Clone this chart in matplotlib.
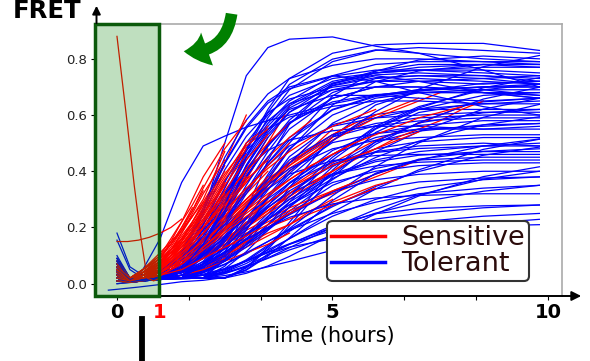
import numpy as np
import matplotlib.pyplot as plt
from matplotlib.patches import Rectangle, FancyArrowPatch
from matplotlib.lines import Line2D

# time grids (hours)
t_tolerant = [0, 0.3, 0.6, 1, 1.5, 2, 2.5, 3, 3.5, 4, 5, 6, 7, 8.5, 9.8]
t_sensitive = [0, 0.3, 0.6, 1, 1.25, 1.5, 1.75, 2, 2.5, 3, 3.5, 4, 4.5, 5,
               5.5, 6, 6.5, 7, 7.5, 8, 8.5]

# tolerant (blue) FRET traces, one row per cell, on t_tolerant
tolerant = [
    [0.05, 0.01, 0.01, 0.03, 0.10, 0.25, 0.50, 0.74, 0.84, 0.87, 0.878, 0.845, 0.82, 0.80, 0.79],
    [0.03, 0.01, 0.015, 0.02, 0.02, 0.12, 0.29, 0.48, 0.62, 0.73, 0.82, 0.85, 0.855, 0.855, 0.83],
    [0.04, 0.01, 0.05, 0.16, 0.36, 0.49, 0.525, 0.557, 0.58, 0.60, 0.64, 0.67, 0.69, 0.70, 0.71],
    [0.02, 0.01, 0.012, 0.02, 0.114, 0.27, 0.449, 0.582, 0.675, 0.73, 0.777, 0.80, 0.80, 0.79, 0.78],
    [0.06, 0.012, 0.015, 0.02, 0.02, 0.02, 0.111, 0.263, 0.438, 0.567, 0.712, 0.757, 0.78, 0.78, 0.77],
    [0.01, 0.008, 0.012, 0.02, 0.109, 0.257, 0.427, 0.553, 0.642, 0.693, 0.738, 0.76, 0.76, 0.75, 0.74],
    [0.08, 0.015, 0.018, 0.025, 0.049, 0.092, 0.15, 0.214, 0.279, 0.344, 0.459, 0.553, 0.625, 0.697, 0.733],
    [0.03, 0.01, 0.015, 0.02, 0.104, 0.244, 0.405, 0.524, 0.608, 0.657, 0.699, 0.72, 0.72, 0.71, 0.72],
    [0.05, 0.012, 0.014, 0.02, 0.02, 0.02, 0.062, 0.139, 0.237, 0.342, 0.524, 0.636, 0.685, 0.713, 0.72],
    [0.0, 0.005, 0.01, 0.02, 0.061, 0.136, 0.231, 0.333, 0.428, 0.51, 0.618, 0.666, 0.686, 0.70, 0.70],
    [0.10, 0.02, 0.015, 0.02, 0.02, 0.046, 0.086, 0.139, 0.198, 0.258, 0.37, 0.469, 0.541, 0.621, 0.66],
    [0.04, 0.01, 0.012, 0.02, 0.02, 0.099, 0.231, 0.383, 0.495, 0.574, 0.647, 0.673, 0.68, 0.68, 0.68],
    [0.02, 0.008, 0.01, 0.015, 0.02, 0.02, 0.02, 0.058, 0.129, 0.218, 0.404, 0.538, 0.609, 0.647, 0.66],
    [0.07, 0.015, 0.015, 0.02, 0.02, 0.057, 0.125, 0.212, 0.305, 0.392, 0.522, 0.59, 0.621, 0.64, 0.64],
    [0.03, 0.01, 0.013, 0.02, 0.02, 0.02, 0.092, 0.212, 0.35, 0.452, 0.566, 0.602, 0.62, 0.62, 0.62],
    [0.18, 0.06, 0.03, 0.04, 0.043, 0.078, 0.124, 0.177, 0.229, 0.281, 0.374, 0.449, 0.507, 0.565, 0.594],
    [0.155, 0.05, 0.02, 0.03, 0.054, 0.117, 0.197, 0.282, 0.362, 0.43, 0.522, 0.562, 0.579, 0.59, 0.59],
    [0.06, 0.012, 0.014, 0.02, 0.02, 0.02, 0.053, 0.114, 0.19, 0.273, 0.416, 0.504, 0.543, 0.565, 0.57],
    [0.02, 0.006, 0.03, 0.05, 0.085, 0.193, 0.317, 0.409, 0.474, 0.511, 0.544, 0.56, 0.56, 0.55, 0.56],
    [0.09, 0.02, 0.015, 0.02, 0.02, 0.02, 0.041, 0.072, 0.114, 0.16, 0.254, 0.337, 0.405, 0.478, 0.514],
    [0.01, 0.005, 0.01, 0.02, 0.02, 0.05, 0.105, 0.175, 0.25, 0.32, 0.425, 0.48, 0.505, 0.52, 0.52],
    [0.05, 0.01, 0.012, 0.02, 0.02, 0.039, 0.068, 0.106, 0.15, 0.193, 0.274, 0.346, 0.399, 0.457, 0.486],
    [0.03, 0.008, 0.012, 0.018, 0.02, 0.02, 0.02, 0.048, 0.098, 0.163, 0.296, 0.393, 0.443, 0.471, 0.48],
    [0.07, 0.015, 0.02, 0.02, 0.02, 0.073, 0.161, 0.262, 0.337, 0.39, 0.438, 0.456, 0.46, 0.46, 0.46],
    [0.04, 0.01, 0.015, 0.02, 0.045, 0.091, 0.15, 0.213, 0.272, 0.322, 0.39, 0.419, 0.432, 0.44, 0.44],
    [0.02, 0.006, 0.01, 0.015, 0.018, 0.02, 0.036, 0.06, 0.092, 0.128, 0.2, 0.264, 0.316, 0.372, 0.40],
    [0.08, 0.02, 0.015, 0.02, 0.02, 0.02, 0.042, 0.081, 0.132, 0.186, 0.279, 0.337, 0.362, 0.376, 0.38],
    [0.0, 0.004, 0.01, 0.015, 0.02, 0.034, 0.054, 0.081, 0.112, 0.142, 0.2, 0.251, 0.289, 0.329, 0.35],
    [0.05, 0.01, 0.01, 0.015, 0.02, 0.02, 0.036, 0.064, 0.101, 0.14, 0.207, 0.249, 0.267, 0.277, 0.28],
    [0.03, 0.008, 0.01, 0.015, 0.018, 0.02, 0.029, 0.042, 0.06, 0.079, 0.119, 0.154, 0.183, 0.214, 0.229],
    [0.02, 0.008, 0.012, 0.02, 0.052, 0.10, 0.164, 0.236, 0.308, 0.38, 0.508, 0.612, 0.692, 0.772, 0.812],
    [0.06, 0.012, 0.015, 0.02, 0.02, 0.108, 0.254, 0.422, 0.546, 0.633, 0.714, 0.743, 0.75, 0.74, 0.72],
    [0.04, 0.01, 0.012, 0.02, 0.02, 0.048, 0.09, 0.146, 0.209, 0.272, 0.391, 0.496, 0.573, 0.657, 0.699],
    [0.01, 0.005, 0.02, 0.04, 0.096, 0.222, 0.367, 0.474, 0.549, 0.593, 0.631, 0.65, 0.65, 0.64, 0.65],
    [0.09, 0.02, 0.015, 0.018, 0.02, 0.02, 0.02, 0.056, 0.122, 0.206, 0.38, 0.506, 0.572, 0.608, 0.62],
    [0.03, 0.01, 0.012, 0.02, 0.02, 0.054, 0.115, 0.194, 0.278, 0.356, 0.474, 0.535, 0.563, 0.58, 0.58],
    [0.05, 0.012, 0.015, 0.02, 0.02, 0.02, 0.084, 0.19, 0.312, 0.402, 0.502, 0.534, 0.55, 0.55, 0.55],
    [0.02, 0.006, 0.012, 0.02, 0.04, 0.07, 0.11, 0.155, 0.20, 0.245, 0.325, 0.39, 0.44, 0.49, 0.515],
    [0.07, 0.015, 0.015, 0.02, 0.048, 0.10, 0.166, 0.236, 0.302, 0.358, 0.434, 0.467, 0.481, 0.49, 0.49],
    [0.04, 0.01, 0.012, 0.02, 0.02, 0.047, 0.097, 0.16, 0.227, 0.29, 0.385, 0.434, 0.457, 0.47, 0.47],
    [0.06, 0.012, 0.012, 0.015, 0.018, 0.02, 0.02, 0.037, 0.063, 0.097, 0.175, 0.248, 0.312, 0.381, 0.416],
    [0.02, 0.006, 0.01, 0.02, 0.02, 0.043, 0.085, 0.138, 0.195, 0.248, 0.328, 0.37, 0.389, 0.40, 0.40],
    [0.03, 0.01, 0.012, 0.02, 0.02, 0.066, 0.149, 0.256, 0.37, 0.476, 0.636, 0.719, 0.757, 0.78, 0.78],
    [0.05, 0.01, 0.012, 0.02, 0.02, 0.061, 0.136, 0.231, 0.333, 0.428, 0.571, 0.646, 0.68, 0.69, 0.67],
    [0.08, 0.015, 0.015, 0.02, 0.02, 0.106, 0.25, 0.416, 0.538, 0.625, 0.704, 0.733, 0.74, 0.74, 0.73],
    [0.01, 0.005, 0.01, 0.015, 0.018, 0.02, 0.046, 0.085, 0.137, 0.196, 0.313, 0.417, 0.501, 0.592, 0.638],
    [0.04, 0.01, 0.012, 0.02, 0.038, 0.071, 0.113, 0.158, 0.20, 0.236, 0.284, 0.305, 0.314, 0.32, 0.32],
    [0.06, 0.012, 0.015, 0.02, 0.02, 0.118, 0.282, 0.471, 0.61, 0.709, 0.799, 0.832, 0.82, 0.76, 0.70],
    [0.02, 0.008, 0.015, 0.03, 0.067, 0.153, 0.262, 0.379, 0.488, 0.582, 0.706, 0.74, 0.72, 0.68, 0.66],
    [0.04, 0.01, 0.02, 0.04, 0.11, 0.26, 0.43, 0.56, 0.65, 0.70, 0.74, 0.72, 0.68, 0.63, 0.60],
    [0.07, 0.015, 0.015, 0.02, 0.02, 0.068, 0.156, 0.268, 0.388, 0.50, 0.668, 0.756, 0.796, 0.81, 0.80],
    [0.03, 0.01, 0.015, 0.03, 0.09, 0.21, 0.36, 0.50, 0.60, 0.67, 0.73, 0.75, 0.76, 0.76, 0.75],
    [0.05, 0.012, 0.015, 0.02, 0.07, 0.17, 0.31, 0.45, 0.56, 0.64, 0.72, 0.75, 0.76, 0.77, 0.77],
    [0.02, 0.008, 0.012, 0.02, 0.06, 0.15, 0.28, 0.42, 0.53, 0.61, 0.69, 0.72, 0.73, 0.72, 0.71],
    [0.07, 0.015, 0.015, 0.02, 0.08, 0.19, 0.34, 0.48, 0.58, 0.64, 0.69, 0.70, 0.70, 0.69, 0.69],
    [0.04, 0.01, 0.012, 0.02, 0.05, 0.13, 0.25, 0.38, 0.49, 0.57, 0.66, 0.70, 0.72, 0.73, 0.74],
    [0.01, 0.005, 0.01, 0.02, 0.06, 0.16, 0.30, 0.44, 0.55, 0.62, 0.67, 0.67, 0.66, 0.65, 0.66],
    [0.06, 0.012, 0.015, 0.02, 0.04, 0.10, 0.20, 0.32, 0.43, 0.52, 0.62, 0.67, 0.69, 0.70, 0.70],
    [0.03, 0.01, 0.012, 0.02, 0.07, 0.18, 0.32, 0.46, 0.57, 0.65, 0.74, 0.78, 0.79, 0.79, 0.79],
    [0.08, 0.015, 0.015, 0.02, 0.03, 0.08, 0.16, 0.27, 0.38, 0.48, 0.60, 0.66, 0.68, 0.68, 0.67],
    [0.02, 0.006, 0.01, 0.02, 0.05, 0.12, 0.22, 0.33, 0.42, 0.49, 0.56, 0.59, 0.60, 0.61, 0.61],
    [0.05, 0.01, 0.012, 0.02, 0.04, 0.09, 0.17, 0.27, 0.36, 0.44, 0.53, 0.57, 0.59, 0.60, 0.60],
    [0.04, 0.01, 0.015, 0.02, 0.03, 0.07, 0.13, 0.21, 0.29, 0.36, 0.46, 0.52, 0.55, 0.56, 0.57],
    [0.09, 0.02, 0.015, 0.02, 0.04, 0.10, 0.18, 0.27, 0.35, 0.41, 0.48, 0.51, 0.52, 0.53, 0.53],
    [0.01, 0.005, 0.01, 0.02, 0.03, 0.06, 0.11, 0.17, 0.24, 0.30, 0.39, 0.44, 0.47, 0.49, 0.50],
    [0.06, 0.012, 0.012, 0.02, 0.03, 0.07, 0.13, 0.20, 0.27, 0.33, 0.42, 0.47, 0.49, 0.50, 0.49],
    [0.03, 0.01, 0.012, 0.02, 0.02, 0.04, 0.08, 0.13, 0.19, 0.25, 0.35, 0.41, 0.44, 0.45, 0.45],
    [0.07, 0.015, 0.015, 0.02, 0.03, 0.06, 0.11, 0.17, 0.23, 0.28, 0.36, 0.40, 0.42, 0.43, 0.43],
    [0.02, 0.008, 0.01, 0.015, 0.02, 0.03, 0.05, 0.08, 0.12, 0.16, 0.24, 0.30, 0.34, 0.37, 0.38],
    [0.04, 0.01, 0.012, 0.02, 0.02, 0.04, 0.07, 0.11, 0.15, 0.19, 0.25, 0.29, 0.32, 0.34, 0.35],
    [0.05, 0.01, 0.012, 0.02, 0.02, 0.03, 0.05, 0.08, 0.11, 0.14, 0.19, 0.23, 0.25, 0.27, 0.28],
    [0.02, 0.006, 0.01, 0.02, 0.02, 0.03, 0.04, 0.06, 0.09, 0.12, 0.17, 0.20, 0.22, 0.24, 0.25],
    [0.06, 0.012, 0.015, 0.02, 0.05, 0.12, 0.22, 0.35, 0.47, 0.57, 0.68, 0.73, 0.74, 0.73, 0.71],
    [0.03, 0.01, 0.012, 0.02, 0.04, 0.11, 0.21, 0.33, 0.45, 0.55, 0.66, 0.70, 0.70, 0.68, 0.66],
    [0.01, 0.005, 0.01, 0.02, 0.03, 0.06, 0.10, 0.16, 0.23, 0.31, 0.45, 0.56, 0.63, 0.69, 0.71],
    [0.08, 0.015, 0.015, 0.02, 0.02, 0.04, 0.08, 0.14, 0.21, 0.29, 0.44, 0.55, 0.62, 0.67, 0.68],
    [0.04, 0.01, 0.015, 0.02, 0.06, 0.14, 0.26, 0.40, 0.52, 0.61, 0.71, 0.75, 0.77, 0.78, 0.78],
    [0.02, 0.008, 0.012, 0.02, 0.05, 0.14, 0.28, 0.45, 0.59, 0.69, 0.79, 0.83, 0.84, 0.83, 0.82],
]
# lowest tolerant trace starts a bit earlier
t_tolerant_low = [-0.2, 0, 0.5, 1, 1.5, 2, 2.5, 3, 3.5, 4, 5, 6, 7, 8.5, 9.8]
tolerant_low = [-0.023, -0.02, -0.012, -0.003, 0.007, 0.012, 0.022, 0.05, 0.105, 0.13, 0.16, 0.18, 0.195, 0.205, 0.21]

# sensitive (red) FRET traces on t_sensitive, each stops when the cell dies
sensitive = [
    [0.05, 0.01, 0.02, 0.05, 0.10, 0.16, 0.22, 0.28, 0.43, 0.60],
    [0.03, 0.01, 0.03, 0.07, 0.12, 0.18, 0.24, 0.30, 0.47],
    [0.08, 0.02, 0.05, 0.10, 0.14, 0.19, 0.24, 0.29, 0.42],
    [0.02, 0.01, 0.04, 0.09, 0.14, 0.20, 0.26, 0.33],
    [0.06, 0.01, 0.03, 0.06, 0.10, 0.15, 0.22, 0.29],
    [0.04, 0.02, 0.05, 0.11, 0.15, 0.19, 0.24],
    [0.01, 0.005, 0.02, 0.04, 0.07, 0.11, 0.16, 0.21, 0.36],
    [0.07, 0.015, 0.03, 0.05, 0.08, 0.12, 0.16, 0.21, 0.34, 0.50],
    [0.02, 0.01, 0.02, 0.04, 0.07, 0.10, 0.14, 0.18, 0.27, 0.39, 0.52],
    [0.03, 0.01, 0.02, 0.03, 0.05, 0.08, 0.11, 0.15, 0.25, 0.37, 0.50, 0.63],
    [0.09, 0.02, 0.04, 0.07, 0.10, 0.13, 0.16, 0.19, 0.27, 0.36, 0.45],
    [0.05, 0.01, 0.02, 0.03, 0.06, 0.09, 0.13, 0.17, 0.28, 0.40],
    [0.02, 0.005, 0.015, 0.03, 0.05, 0.07, 0.09, 0.12, 0.19, 0.27, 0.37, 0.48],
    [0.04, 0.01, 0.02, 0.04, 0.06, 0.08, 0.11, 0.14, 0.21, 0.28, 0.35, 0.42, 0.48, 0.55],
    [0.03, 0.01, 0.02, 0.03, 0.05, 0.07, 0.10, 0.13, 0.20, 0.27, 0.34, 0.40, 0.46, 0.51, 0.56, 0.60],
    [0.06, 0.02, 0.03, 0.05, 0.07, 0.10, 0.13, 0.16, 0.23, 0.30, 0.37, 0.43, 0.48, 0.53, 0.57, 0.60, 0.63, 0.66],
    [0.02, 0.01, 0.02, 0.04, 0.06, 0.09, 0.12, 0.15, 0.22, 0.29, 0.35, 0.41, 0.46, 0.51, 0.55, 0.59, 0.62, 0.65, 0.68],
    [0.05, 0.01, 0.02, 0.03, 0.05, 0.07, 0.09, 0.12, 0.17, 0.23, 0.29, 0.34, 0.39, 0.43, 0.47, 0.51, 0.54, 0.57, 0.60, 0.63],
    [0.01, 0.005, 0.01, 0.03, 0.05, 0.07, 0.09, 0.11, 0.16, 0.21, 0.26, 0.31, 0.36, 0.40, 0.44, 0.48, 0.52, 0.55, 0.58, 0.62, 0.65],
    [0.04, 0.01, 0.02, 0.03, 0.04, 0.06, 0.08, 0.10, 0.14, 0.18, 0.22, 0.26, 0.29, 0.32, 0.35, 0.38, 0.41, 0.44],
    [0.02, 0.01, 0.02, 0.03, 0.05, 0.06, 0.08, 0.10, 0.14, 0.19, 0.23, 0.27, 0.30, 0.33, 0.36, 0.39, 0.415],
    [0.07, 0.02, 0.03, 0.04, 0.05, 0.06, 0.08, 0.09, 0.13, 0.16, 0.20, 0.23, 0.26, 0.29, 0.32, 0.35, 0.37],
    [0.03, 0.01, 0.02, 0.03, 0.05, 0.07, 0.09, 0.11, 0.16, 0.21, 0.26, 0.31, 0.36, 0.40],
    [0.06, 0.01, 0.02, 0.04, 0.05, 0.07, 0.09, 0.11, 0.16, 0.21, 0.27, 0.33],
    [0.02, 0.01, 0.01, 0.02, 0.04, 0.06, 0.08, 0.11, 0.19, 0.28],
    [0.05, 0.01, 0.02, 0.03, 0.05, 0.07, 0.10, 0.12, 0.20],
    [0.03, 0.01, 0.02, 0.03, 0.05, 0.08, 0.11, 0.15],
    [0.01, 0.005, 0.01, 0.02, 0.03, 0.05, 0.07, 0.09, 0.14, 0.21, 0.30],
    [0.04, 0.01, 0.02, 0.03, 0.04, 0.06, 0.08, 0.10, 0.15, 0.20, 0.26, 0.32, 0.38],
    [0.02, 0.01, 0.02, 0.03, 0.04, 0.06, 0.08, 0.10, 0.15, 0.20, 0.25, 0.30, 0.35, 0.40, 0.45],
    [0.07, 0.02, 0.03, 0.04, 0.05, 0.06, 0.08, 0.10],
    [0.03, 0.01, 0.03, 0.06, 0.08, 0.10, 0.12],
    [0.05, 0.02, 0.04, 0.06, 0.08, 0.10],
    [0.02, 0.01, 0.01, 0.02, 0.03, 0.05, 0.07, 0.09, 0.15, 0.22],
    [0.03, 0.01, 0.01, 0.02, 0.03, 0.04, 0.05, 0.07, 0.11, 0.15, 0.20, 0.25],
    [0.01, 0.005, 0.01, 0.02, 0.03, 0.04, 0.05, 0.06, 0.09, 0.13, 0.17, 0.21, 0.26, 0.30],
    [0.02, 0.01, 0.01, 0.02, 0.03, 0.04, 0.05, 0.07, 0.10, 0.14, 0.18, 0.21, 0.25, 0.28, 0.31, 0.34],
    [0.04, 0.01, 0.03, 0.06, 0.09, 0.12, 0.16, 0.20, 0.28],
    [0.02, 0.01, 0.02, 0.04, 0.07, 0.10, 0.13, 0.16, 0.25, 0.34],
    [0.06, 0.02, 0.03, 0.05, 0.07, 0.10, 0.13, 0.16, 0.24, 0.32, 0.40],
    [0.03, 0.01, 0.02, 0.04, 0.06, 0.08, 0.11, 0.14, 0.21, 0.28, 0.36, 0.43, 0.50],
    [0.05, 0.01, 0.02, 0.04, 0.07, 0.10, 0.13, 0.16, 0.23, 0.30, 0.37, 0.43, 0.48, 0.53, 0.57],
    [0.01, 0.005, 0.02, 0.04, 0.07, 0.11, 0.15, 0.20],
    [0.06, 0.02, 0.05, 0.09, 0.12, 0.16],
    [0.02, 0.01, 0.01, 0.02, 0.03, 0.04, 0.05, 0.06, 0.10, 0.15],
    [0.04, 0.01, 0.01, 0.02, 0.02, 0.03, 0.04, 0.05, 0.08, 0.11, 0.14, 0.18],
    [0.02, 0.01, 0.02, 0.05, 0.08, 0.12, 0.16, 0.21, 0.33],
    [0.05, 0.015, 0.04, 0.08, 0.12, 0.16, 0.21, 0.26],
    [0.03, 0.01, 0.02, 0.04, 0.07, 0.11, 0.15, 0.20, 0.32, 0.45],
    [0.03, 0.01, 0.02, 0.03, 0.06, 0.09, 0.13, 0.16, 0.24],
    [0.02, 0.01, 0.04, 0.08, 0.11, 0.14, 0.18],
    [0.04, 0.01, 0.02, 0.03, 0.05, 0.07, 0.10, 0.13, 0.19, 0.26, 0.35],
    [0.03, 0.01, 0.04, 0.09, 0.15, 0.22, 0.30, 0.38, 0.50],
    [0.05, 0.01, 0.03, 0.08, 0.13, 0.19, 0.26, 0.34, 0.48, 0.58],
    [0.02, 0.01, 0.03, 0.07, 0.12, 0.18, 0.25, 0.32, 0.44],
    [0.04, 0.02, 0.05, 0.10, 0.16, 0.22, 0.28, 0.35],
    [0.06, 0.01, 0.03, 0.06, 0.10, 0.15, 0.20, 0.26, 0.38, 0.50, 0.56],
    [0.01, 0.005, 0.02, 0.05, 0.09, 0.14, 0.19, 0.25, 0.37, 0.48],
    [0.03, 0.01, 0.03, 0.07, 0.11, 0.16, 0.21, 0.27, 0.39, 0.49, 0.55],
    [0.07, 0.02, 0.04, 0.08, 0.12, 0.17, 0.22, 0.28, 0.40],
    [0.02, 0.01, 0.02, 0.05, 0.08, 0.12, 0.17, 0.22, 0.33, 0.44, 0.53],
    [0.04, 0.01, 0.03, 0.06, 0.09, 0.13, 0.18, 0.23, 0.35, 0.46],
    [0.05, 0.015, 0.03, 0.06, 0.10, 0.14, 0.19, 0.24, 0.36],
    [0.02, 0.01, 0.02, 0.04, 0.07, 0.11, 0.15, 0.20, 0.30, 0.41, 0.50, 0.57],
    [0.08, 0.02, 0.04, 0.07, 0.10, 0.14, 0.18, 0.22, 0.31, 0.40, 0.48],
    [0.03, 0.01, 0.02, 0.05, 0.09, 0.13, 0.18, 0.23, 0.32],
    [0.01, 0.005, 0.02, 0.04, 0.07, 0.10, 0.14, 0.18, 0.27, 0.36, 0.45, 0.52, 0.58],
    [0.06, 0.01, 0.03, 0.05, 0.08, 0.12, 0.16, 0.20, 0.29, 0.38],
    [0.02, 0.01, 0.03, 0.06, 0.10, 0.15, 0.20, 0.25, 0.35],
    [0.04, 0.01, 0.02, 0.04, 0.06, 0.09, 0.12, 0.16, 0.24, 0.33, 0.42, 0.50],
    [0.03, 0.01, 0.02, 0.03, 0.05, 0.08, 0.11, 0.14, 0.22, 0.30, 0.38],
    [0.05, 0.02, 0.05, 0.09, 0.14, 0.20, 0.27],
    [0.02, 0.01, 0.02, 0.04, 0.06, 0.09, 0.12, 0.15, 0.22, 0.29, 0.36, 0.42, 0.47, 0.52],
    [0.07, 0.02, 0.03, 0.05, 0.08, 0.11, 0.14, 0.18, 0.26, 0.34, 0.41, 0.47, 0.52, 0.56, 0.59, 0.62],
    [0.03, 0.01, 0.02, 0.04, 0.06, 0.08, 0.10, 0.13, 0.19, 0.25, 0.31, 0.37, 0.42, 0.46, 0.50],
    [0.01, 0.005, 0.01, 0.03, 0.05, 0.07, 0.09, 0.12, 0.18, 0.24, 0.29, 0.34, 0.38, 0.42, 0.45, 0.48, 0.51, 0.54],
    [0.04, 0.01, 0.02, 0.03, 0.05, 0.07, 0.10, 0.13, 0.20, 0.26, 0.32, 0.37, 0.42, 0.46, 0.50, 0.53, 0.56, 0.59, 0.61, 0.63],
    [0.05, 0.01, 0.02, 0.03, 0.04, 0.05, 0.07, 0.09, 0.13, 0.17, 0.21, 0.25, 0.29, 0.33, 0.36],
    [0.02, 0.01, 0.03, 0.06, 0.09, 0.12, 0.16, 0.20, 0.28, 0.37, 0.44],
    [0.06, 0.02, 0.04, 0.07, 0.11, 0.16, 0.21],
]
# two odd sensitive traces inside the pre-treatment window
t_sens_drop = [0, 0.2, 0.4, 0.55, 0.7, 0.85, 1.0]
sens_drop = [0.88, 0.62, 0.35, 0.17, 0.02, 0.01, 0.02]
t_sens_flat = [0, 0.25, 0.5, 0.75, 1.0, 1.25, 1.5]
sens_flat = [0.15, 0.15, 0.155, 0.165, 0.18, 0.20, 0.23]

xtick_pos = [0, 1, 5 / 3, 10 / 3, 5, 20 / 3, 25 / 3, 10]
xtick_lab = ['0', '1', '', '', '5', '', '', '10']
ytick_pos = [0.0, 0.2, 0.4, 0.6, 0.8]

W, H = 590, 361
def px(x, y):
    # figure pixel (top-left origin) -> figure fraction
    return (x / W, 1 - y / H)

fig = plt.figure(figsize=(W / 100, H / 100), dpi=100)
ax = fig.add_axes([95 / W, 1 - 296 / H, (562 - 95) / W, (296 - 24) / H])

lw = 0.9
n = max(len(tolerant), len(sensitive))
for i in range(n):
    if i < len(tolerant):
        ax.plot(t_tolerant, tolerant[i], color='blue', lw=lw)
    if i < len(sensitive):
        v = sensitive[i]
        ax.plot(t_sensitive[:len(v)], v, color='red', lw=lw)
ax.plot(t_tolerant_low, tolerant_low, color='blue', lw=lw)
ax.plot(t_sens_drop, sens_drop, color='red', lw=lw)
ax.plot(t_sens_flat, sens_flat, color='red', lw=lw)

ax.set_xlim(-0.51, 10.325)
ax.set_ylim(-0.0438, 0.924)

# pre-treatment window
ax.add_patch(Rectangle((-0.5, -0.0438), 1.48, 0.968, facecolor='green', alpha=0.25,
                       edgecolor='none', zorder=5, clip_on=False))
ax.add_patch(Rectangle((-0.5, -0.0438), 1.48, 0.968, fill=False,
                       edgecolor='#0b5a0b', lw=2.5, zorder=6, clip_on=False))

for s in ['top', 'right']:
    ax.spines[s].set_color('#aaaaaa')
    ax.spines[s].set_linewidth(1.2)
ax.spines['bottom'].set_linewidth(1.4)

ax.set_yticks(ytick_pos)
ax.set_yticklabels(['%.1f' % y for y in ytick_pos], fontsize=9.5, color='#222222')
ax.tick_params(axis='y', length=3, width=0.8, pad=3)
ax.set_xticks(xtick_pos)
ax.set_xticklabels(xtick_lab, fontsize=14, fontweight='bold')
ax.tick_params(axis='x', length=3, width=0.8, pad=2)
ax.xaxis.get_major_ticks()[1].tick1line.set_visible(False)
ax.get_xticklabels()[1].set_color('red')
ax.set_xlabel('Time (hours)', fontsize=15, labelpad=3)

handles = [Line2D([], [], color='red', lw=2.5), Line2D([], [], color='blue', lw=2.5)]
leg = ax.legend(handles, ['Sensitive', 'Tolerant'], loc='upper left',
                bbox_to_anchor=(0.497, 0.276), fontsize=19.5, handlelength=2.0,
                handletextpad=0.6, labelspacing=0.0, borderpad=0.15,
                borderaxespad=0, fancybox=True, framealpha=1,
                edgecolor='#333333', labelcolor='#2b0b0b')
leg.get_frame().set_linewidth(1.5)
leg.set_zorder(10)

# axis arrows
fig.add_artist(FancyArrowPatch(px(560, 296), px(584, 296), transform=fig.transFigure,
                               arrowstyle='-|>', mutation_scale=14, lw=1.4, color='k'))
fig.add_artist(FancyArrowPatch(px(96.5, 26), px(96.5, 3), transform=fig.transFigure,
                               arrowstyle='-|>', mutation_scale=12, lw=1.4, color='k'))
fig.text(*px(13, 18), 'FRET', fontsize=17.6, fontweight='bold', va='baseline')

# curved green arrow pointing to the window
fig.add_artist(FancyArrowPatch(px(232, 11), px(181, 51), transform=fig.transFigure,
                               connectionstyle='arc3,rad=-0.5',
                               arrowstyle='simple,head_width=1.8,head_length=1.2,tail_width=0.6',
                               mutation_scale=14, color='green', lw=0))

# black marker under the axis
fig.add_artist(Line2D([141.7 / W] * 2, [0, 42 / H], transform=fig.transFigure,
                      lw=4.2, color='k'))

fig.savefig('out.png', dpi=100)
